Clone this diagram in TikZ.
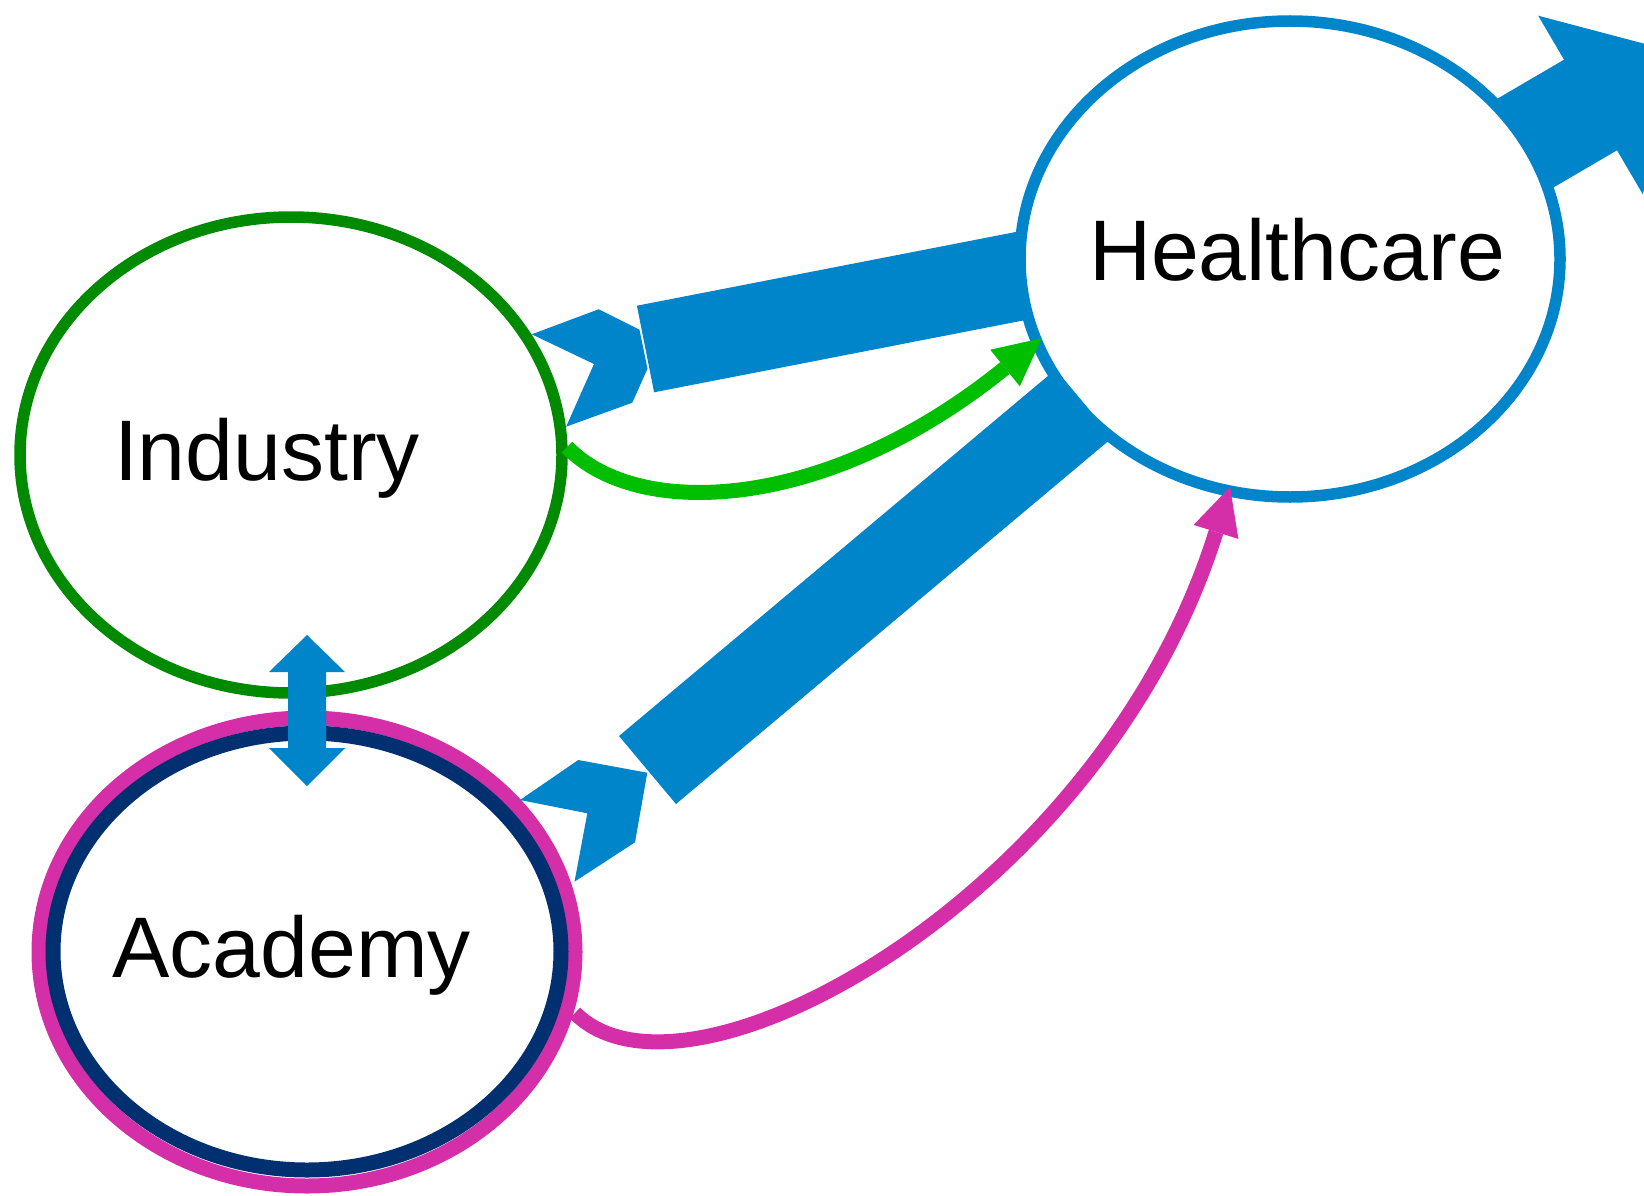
\documentclass[tikz,border=0pt]{standalone}
\usepackage{fontspec}
\setmainfont{Liberation Sans}
\usetikzlibrary{shapes.geometric}
\definecolor{hblue}{HTML}{0085CA}
\definecolor{igreen}{HTML}{008A00}
\definecolor{cgreen}{HTML}{00BE00}
\definecolor{apink}{HTML}{D52EA9}
\definecolor{anavy}{HTML}{003070}
\begin{document}
\begin{tikzpicture}[x=1pt,y=-1pt,
  ell/.style={ellipse, fill=white, inner sep=0pt, outer sep=0pt},
  lbl/.style={font=\fontsize{86}{100}\selectfont, anchor=base, inner sep=0pt},
  blk/.style={fill=hblue},
  curvelink/.style={line width=15pt},
]
\useasboundingbox (0,0) rectangle (1644,1196);
% outgoing arrow and Industry->Healthcare body (under Healthcare)
\fill[blk] (1391.4,160.7) -- (1564,59.7) -- (1538.2,15.7) -- (1679.4,53) -- (1642.8,194.3) -- (1617,150.3) -- (1444.4,251.3) -- cycle;
\fill[blk] (636.9,305.7) -- (1021.9,230.8) -- (1039.1,317.4) -- (654.1,392.3) -- cycle;
% nodes
\node[ell, draw=hblue, line width=11.5pt, minimum width=540pt, minimum height=476pt] (hc) at (1290,259) {};
\node[ell, draw=igreen, line width=11.5pt, minimum width=542pt, minimum height=476pt] (ind) at (291,455) {};
\node[ell, draw=apink, line width=15pt, minimum width=536pt, minimum height=468pt] (acd) at (307,952) {};
\node[ell, draw=anavy, line width=15pt, minimum width=508pt, minimum height=437pt] (acdin) at (307,951.5) {};
% tails and Academy->Healthcare body
\fill[blk] (531.7,334.3) -- (598.6,309.3) -- (639.5,329.7) -- (647.5,368.7) -- (632.3,402.7) -- (566.1,426.7) -- (594,364) -- cycle;
\fill[blk] (520,800) -- (578.3,760) -- (647.3,772.7) -- (635,842.3) -- (574.5,881.7) -- (587.3,813.3) -- cycle;
\fill[blk] (619,736) -- (1055.6,369.5) -- (1112.6,437.5) -- (676,804) -- cycle;
% Industry <-> Academy
\coordinate (da) at (307,635);
\coordinate (db) at (307,786);
\fill[blk] (da) -- ++(38,37) -- ++(-19,0) -- ++(0,76) -- ++(19,0) -- (db) -- ++(-38,-38) -- ++(19,0) -- ++(0,-76) -- ++(-19,0) -- cycle;
% curved flows: Industry -> Healthcare (green)
\coordinate (g0) at (567,447);
\coordinate (gb) at (1005,368);
\coordinate (g1) at (1041.7,338.3);
\draw[cgreen, line width=15pt] (g0) .. controls (636,519) and (824.1,514.4) .. (gb);
\fill[cgreen] (g1) -- (1019.8,386.3) -- (990.2,349.7) -- cycle;
% Academy -> Healthcare (pink)
\coordinate (p0) at (575,1013);
\coordinate (pb) at (1216,531.9);
\coordinate (p1) at (1230,487);
\draw[apink, line width=15pt] (p0) .. controls (687,1126) and (1103,895) .. (pb);
\fill[apink] (p1) -- (1238.4,538.9) -- (1193.6,524.9) -- cycle;
% labels
\node[lbl] (indt) at (267,480) {Industry};
\node[lbl] (hct) at (1297,280) {Healthcare};
\node[lbl] (acdt) at (291.5,977) {Academy};
\end{tikzpicture}
\end{document}
